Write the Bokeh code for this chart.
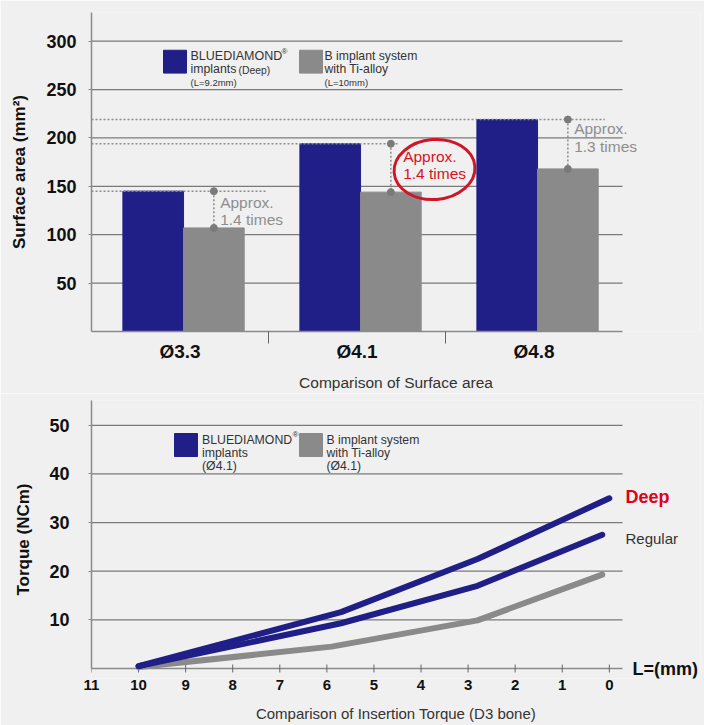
import numpy as np
from bokeh.plotting import figure
from bokeh.layouts import column
from bokeh.models import Range1d, FixedTicker, Label
from bokeh.embed import file_html
from bokeh.resources import INLINE

# ---------------- data ----------------
categories = ["Ø3.3", "Ø4.1", "Ø4.8"]
bluediamond_area = [145, 194, 219]
ti_alloy_area = [107, 144, 168]
ratio_labels = ["1.4 times", "1.4 times", "1.3 times"]
area_ticks = [50, 100, 150, 200, 250, 300]

length_ticks = [11, 10, 9, 8, 7, 6, 5, 4, 3, 2, 1, 0]
torque_ticks = [10, 20, 30, 40, 50]
deep_len = [10, 5.7, 2.8, 0.0]
deep_torque = [0.5, 11.6, 22.5, 35.0]
regular_len = [10, 5.7, 2.8, 0.15]
regular_torque = [0.5, 9.3, 17.0, 27.5]
ti_len = [10, 5.9, 2.8, 0.15]
ti_torque = [0.3, 4.5, 9.9, 19.3]

# ---------------- style ----------------
FONT = "Liberation Sans"
BLUE = "#1f1f87"
GRAY = "#8a8a8a"
BG = "#f0f0f0"
TXT = "#333333"
RED = "#d8101f"
AXIS = "#8a8a8a"
GRID = "#7a7a7a"
W = 704

# ---------------- top chart ----------------
TOP_H = 393
PX_X_TOP = 177.0            # px per category
PX_Y_TOP = 321.0 / 329.6    # px per mm2
ymax_top = (333 - 12) / PX_Y_TOP
xmax_top = (W - 4 - 91) / PX_X_TOP
top = figure(width=W, height=TOP_H, x_range=Range1d(0, xmax_top), y_range=Range1d(0, ymax_top),
             output_backend="svg", toolbar_location=None,
             min_border_left=91, min_border_right=4, min_border_top=12, min_border_bottom=60,
             background_fill_color=BG, border_fill_color=BG, outline_line_color=None)

def tx(px):
    return (px - 91) / PX_X_TOP

def ty(py):
    return (333 - py) / PX_Y_TOP

ncat = len(categories)
# horizontal grid lines, limited to the category span
top.segment(x0=[0] * len(area_ticks), x1=[ncat] * len(area_ticks), y0=area_ticks, y1=area_ticks,
            line_color=GRID, line_width=1.3)

bar_w = 0.3426
shift = 0.02
idx = np.arange(ncat)
x_blue = idx + 0.5 + shift - bar_w / 2
x_gray = idx + 0.5 + shift + bar_w / 2

top.vbar(x=x_blue, top=bluediamond_area, width=bar_w, bottom=0, color=BLUE)
top.vbar(x=x_gray, top=ti_alloy_area, width=bar_w, bottom=0, color=GRAY)

# dotted comparison guides
dotted_ends = [0.99, 1.74, 2.9]
for i in range(ncat):
    top.line([0, dotted_ends[i]], [bluediamond_area[i]] * 2, line_color="#8c8c8c",
             line_width=1.5, line_dash="2 2")
top.segment(x0=x_gray, y0=bluediamond_area, x1=x_gray, y1=ti_alloy_area,
            line_color="#8c8c8c", line_width=1.5, line_dash="2 2")
top.scatter(x=x_gray, y=bluediamond_area, size=7, color="#7a7a7a")
top.scatter(x=x_gray, y=ti_alloy_area, size=7, color="#7a7a7a")

approx_dx = [6.3, 12.3, 6.3]
approx_dy = [7.3, 11.7, 15.5]
times_dy = [-10.4, -5.6, -2.1]
for i in range(ncat):
    col = RED if i == 1 else "#8e8e8e"
    mid = (bluediamond_area[i] + ti_alloy_area[i]) / 2
    top.add_layout(Label(x=x_gray[i], y=mid, x_offset=approx_dx[i], y_offset=approx_dy[i],
                         text="Approx.", text_font=FONT,
                         text_font_size="15.5px", text_color=col, text_baseline="middle"))
    top.add_layout(Label(x=x_gray[i], y=mid, x_offset=approx_dx[i], y_offset=times_dy[i],
                         text=ratio_labels[i], text_font=FONT,
                         text_font_size="15.5px", text_color=col, text_baseline="middle"))

# red hand-drawn circle
top.ellipse(x=tx(434), y=ty(170), width=81, height=60, width_units="screen",
            height_units="screen", fill_color=None, line_color="#cf1628", line_width=3,
            angle=0.08)

def tlabel(fig, fx, fy, px, py, text, size, color=TXT, style="normal", align="left"):
    fig.add_layout(Label(x=fx(px), y=fy(py), text=text, text_font=FONT, text_font_size=size,
                         text_color=color, text_font_style=style, text_baseline="middle",
                         text_align=align))

# legend (top)
top.quad(left=tx(163), right=tx(186), top=ty(50), bottom=ty(73), color=BLUE)
top.quad(left=tx(299), right=tx(322), top=ty(50), bottom=ty(73), color=GRAY)
tlabel(top, tx, ty, 190, 56, "BLUEDIAMOND", "12.5px")
tlabel(top, tx, ty, 281, 51, "®", "8px")
tlabel(top, tx, ty, 190, 69, "implants", "12.3px")
tlabel(top, tx, ty, 238, 70, "(Deep)", "10.4px")
tlabel(top, tx, ty, 190, 82, "(L=9.2mm)", "9.5px")
tlabel(top, tx, ty, 324, 56, "B implant system", "12.2px")
tlabel(top, tx, ty, 324, 69, "with Ti-alloy", "12.2px")
tlabel(top, tx, ty, 324, 82, "(L=10mm)", "9.5px")

# axes (top)
top.xgrid.visible = False
top.ygrid.visible = False

top.yaxis.ticker = FixedTicker(ticks=area_ticks)
top.yaxis.axis_label = "Surface area (mm²)"
top.yaxis.axis_label_text_font = FONT
top.yaxis.axis_label_text_font_style = "bold"
top.yaxis.axis_label_text_font_size = "17px"
top.yaxis.axis_label_text_color = "#111111"
top.yaxis.axis_label_standoff = 14
top.yaxis.major_label_text_font = FONT
top.yaxis.major_label_text_font_style = "bold"
top.yaxis.major_label_text_font_size = "18px"
top.yaxis.major_label_text_color = "#111111"
top.yaxis.major_label_standoff = 12
top.yaxis.major_tick_out = 3
top.yaxis.major_tick_in = 0
top.yaxis.major_tick_line_color = AXIS
top.yaxis.minor_tick_line_color = None
top.yaxis.axis_line_color = AXIS
top.yaxis.axis_line_width = 1.5

cat_centers = [i + 0.5 for i in range(ncat)]
top.xaxis.ticker = FixedTicker(ticks=cat_centers, minor_ticks=list(range(1, ncat)))
top.xaxis.bounds = (0, ncat)
top.xaxis.major_label_overrides = {c: categories[i] for i, c in enumerate(cat_centers)}
top.xaxis.major_tick_line_color = None
top.xaxis.major_tick_out = 0
top.xaxis.major_tick_in = 0
top.xaxis.minor_tick_out = 12
top.xaxis.minor_tick_in = 0
top.xaxis.minor_tick_line_color = "#666666"
top.xaxis.minor_tick_line_width = 1
top.xaxis.major_label_text_font = FONT
top.xaxis.major_label_text_font_style = "bold"
top.xaxis.major_label_text_font_size = "19px"
top.xaxis.major_label_text_color = "#111111"
top.xaxis.major_label_standoff = -3
top.xaxis.axis_label = "Comparison of Surface area"
top.xaxis.axis_label_text_font = FONT
top.xaxis.axis_label_text_font_style = "normal"
top.xaxis.axis_label_text_font_size = "15.5px"
top.xaxis.axis_label_text_color = TXT
top.xaxis.axis_label_standoff = 9
top.xaxis.axis_line_color = AXIS
top.xaxis.axis_line_width = 1.5

# ---------------- bottom chart ----------------
BOT_H = 725 - TOP_H          # page y 393..725
PX_X_BOT = 531.0 / 11.28     # px per mm
PX_Y_BOT = 268.0 / 55.1      # px per Ncm
FRAME_TOP = 400 - TOP_H      # 7
FRAME_BOT = 678              # page y of frame bottom
ZERO_Y = 668                 # page y of torque 0
ymax_bot = (ZERO_Y - 400) / PX_Y_BOT
ymin_bot = -(FRAME_BOT - ZERO_Y) / PX_Y_BOT
xlow_bot = 11 - (W - 4 - 91) / PX_X_BOT
axis_end = -0.28
bot = figure(width=W, height=BOT_H, x_range=Range1d(11, xlow_bot),
             y_range=Range1d(ymin_bot, ymax_bot),
             output_backend="svg", toolbar_location=None,
             min_border_left=91, min_border_right=4, min_border_top=FRAME_TOP,
             min_border_bottom=725 - FRAME_BOT,
             background_fill_color=BG, border_fill_color=BG, outline_line_color=None)

def bx(px):
    return 11 - (px - 91) / PX_X_BOT

def by(py):
    return (ZERO_Y - py) / PX_Y_BOT

nt = len(torque_ticks)
bot.segment(x0=[11] * nt, x1=[axis_end] * nt, y0=torque_ticks, y1=torque_ticks,
            line_color=GRID, line_width=1.3)
# x axis line at torque 0 and its ticks
bot.segment(x0=[11], x1=[axis_end], y0=[0], y1=[0], line_color=AXIS, line_width=1.5)
tick_h = 4 / PX_Y_BOT
nl = len(length_ticks)
bot.segment(x0=length_ticks, x1=length_ticks, y0=[-tick_h] * nl, y1=[tick_h] * nl,
            line_color="#666666", line_width=1)

bot.line(ti_len, ti_torque, line_color=GRAY, line_width=6, line_cap="round", line_join="round")
bot.line(regular_len, regular_torque, line_color=BLUE, line_width=6, line_cap="round", line_join="round")
bot.line(deep_len, deep_torque, line_color=BLUE, line_width=6, line_cap="round", line_join="round")

# legend (bottom)
bot.quad(left=bx(174), right=bx(197), top=by(433), bottom=by(456), color=BLUE)
bot.quad(left=bx(299), right=bx(322), top=by(433), bottom=by(456), color=GRAY)
tlabel(bot, bx, by, 201.5, 439, "BLUEDIAMOND", "12.3px")
tlabel(bot, bx, by, 292, 434, "®", "8px")
tlabel(bot, bx, by, 201.5, 452, "implants", "12.3px")
tlabel(bot, bx, by, 201.5, 465, "(Ø4.1)", "12.3px")
tlabel(bot, bx, by, 326, 439, "B implant system", "12.2px")
tlabel(bot, bx, by, 326, 452, "with Ti-alloy", "12.2px")
tlabel(bot, bx, by, 326, 465, "(Ø4.1)", "12.2px")

# series labels and axis unit
tlabel(bot, bx, by, 625, 496, "Deep", "18px", color="#e0001b", style="bold")
tlabel(bot, bx, by, 625, 538, "Regular", "15px", color=TXT)
tlabel(bot, bx, by, 632, 668, "L=(mm)", "18px", color="#111111", style="bold")

bot.xgrid.visible = False
bot.ygrid.visible = False

bot.yaxis.ticker = FixedTicker(ticks=torque_ticks)
bot.yaxis.bounds = (0, ymax_bot)
bot.yaxis.axis_label = "Torque (NCm)"
bot.yaxis.axis_label_text_font = FONT
bot.yaxis.axis_label_text_font_style = "bold"
bot.yaxis.axis_label_text_font_size = "17px"
bot.yaxis.axis_label_text_color = "#111111"
bot.yaxis.axis_label_standoff = 13
bot.yaxis.major_label_text_font = FONT
bot.yaxis.major_label_text_font_style = "bold"
bot.yaxis.major_label_text_font_size = "18px"
bot.yaxis.major_label_text_color = "#111111"
bot.yaxis.major_label_standoff = 19
bot.yaxis.major_tick_out = 3
bot.yaxis.major_tick_in = 0
bot.yaxis.major_tick_line_color = AXIS
bot.yaxis.minor_tick_line_color = None
bot.yaxis.axis_line_color = AXIS
bot.yaxis.axis_line_width = 1.5

bot.xaxis.ticker = FixedTicker(ticks=length_ticks)
bot.xaxis.axis_line_color = None
bot.xaxis.major_tick_line_color = None
bot.xaxis.minor_tick_line_color = None
bot.xaxis.major_tick_out = 0
bot.xaxis.major_tick_in = 0
bot.xaxis.major_label_text_font = FONT
bot.xaxis.major_label_text_font_style = "bold"
bot.xaxis.major_label_text_font_size = "15px"
bot.xaxis.major_label_text_color = "#111111"
bot.xaxis.major_label_standoff = 1
bot.xaxis.axis_label = "Comparison of Insertion Torque (D3 bone)"
bot.xaxis.axis_label_text_font = FONT
bot.xaxis.axis_label_text_font_style = "normal"
bot.xaxis.axis_label_text_font_size = "15px"
bot.xaxis.axis_label_text_color = TXT
bot.xaxis.axis_label_standoff = 12

layout = column(top, bot, spacing=0)
open("out.html", "w").write(file_html(layout, INLINE))
